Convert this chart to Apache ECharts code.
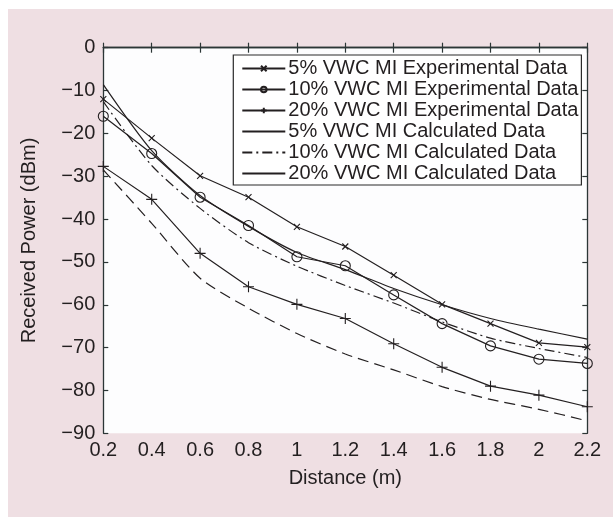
<!DOCTYPE html>
<html>
<head>
<meta charset="utf-8">
<script src="https://cdn.jsdelivr.net/npm/echarts@6/dist/echarts.min.js"></script>
<style>
  html, body { margin: 0; padding: 0; background: #ffffff; }
  #chart { position: absolute; left: 8px; top: 9px; width: 605px; height: 508px; }
</style>
</head>
<body>
<div id="chart"></div>
<script>
// Distance from the transmitter (m)
const distances = [0.2, 0.4, 0.6, 0.8, 1.0, 1.2, 1.4, 1.6, 1.8, 2.0, 2.2];

// Measured received power (dBm)
const exp5  = [-12.0, -21.1, -29.9, -34.9, -41.8, -46.4, -53.1, -59.9, -64.4, -68.9, -69.9];
const exp10 = [-16.0, -24.7, -34.9, -41.5, -48.8, -50.9, -57.7, -64.4, -69.6, -72.7, -73.7];
const exp20 = [-27.7, -35.4, -48.0, -55.8, -59.9, -63.2, -69.1, -74.6, -79.0, -81.1, -83.8];

// Model received power (dBm)
const calc5  = [-8.6, -24.0, -34.5, -41.7, -47.8, -51.8, -56.2, -60.0, -63.2, -65.7, -68.0];
const calc10 = [-12.6, -27.5, -37.5, -45.5, -51.0, -55.5, -59.6, -64.0, -67.8, -70.2, -72.3];
const calc20 = [-28.5, -41.0, -53.8, -60.8, -66.7, -71.5, -75.2, -79.1, -82.1, -84.4, -87.1];

const seriesNames = [
  '5% VWC MI Experimental Data',
  '10% VWC MI Experimental Data',
  '20% VWC MI Experimental Data',
  '5% VWC MI Calculated Data',
  '10% VWC MI Calculated Data',
  '20% VWC MI Calculated Data'
];

const ink = '#231f20';
const axisInk = '#2c3636';
const FONT = 'Liberation Sans, Arial, sans-serif';

const pairs = arr => distances.map((d, i) => [d, arr[i]]);

const crossPath = 'path://M0,0L10,10M10,0L0,10';
const plusPath = 'path://M5,0L5,10M0,5L10,5';

function lineSeries(name, data, opts) {
  return Object.assign({
    name: name,
    type: 'line',
    data: pairs(data),
    showSymbol: true,
    symbol: 'none',
    lineStyle: { color: ink, width: 1.2, type: 'solid' },
    itemStyle: { color: ink, borderColor: ink, borderWidth: 1.1 },
    emphasis: { disabled: true },
    animation: false,
    z: 3
  }, opts);
}

const minusFmt = v => (v < 0 ? '\u2212' + Math.abs(v) : String(v));
const distFmt = v => String(parseFloat(v.toFixed(1)));

// legend entries of the model curves show only a plain line
const lineOnly = { opacity: 0, color: 'rgba(0,0,0,0)', borderWidth: 0 };

const option = {
  backgroundColor: '#efdfe3',
  animation: false,
  textStyle: { fontFamily: FONT, color: ink },
  grid: {
    left: 95.3, top: 38.7, right: 25.7, bottom: 83.7,
    show: true, backgroundColor: '#fdfdfe', borderWidth: 0
  },
  xAxis: [
    {
      type: 'value', min: 0.2, max: 2.2, interval: 0.2,
      name: 'Distance (m)', nameLocation: 'middle', nameGap: 35,
      nameTextStyle: { fontSize: 20, color: ink, fontFamily: FONT },
      axisLine: { show: true, lineStyle: { color: axisInk, width: 1.3 } },
      axisTick: { show: true, inside: true, length: 5, lineStyle: { color: axisInk, width: 1.2 } },
      axisLabel: { fontSize: 20, color: ink, margin: 7, formatter: distFmt, fontFamily: FONT },
      splitLine: { show: false }
    },
    {
      type: 'value', min: 0.2, max: 2.2, interval: 0.2, position: 'top',
      axisLine: { show: true, lineStyle: { color: axisInk, width: 1.3 } },
      axisTick: { show: true, inside: true, length: 5, lineStyle: { color: axisInk, width: 1.2 } },
      axisLabel: { show: false },
      splitLine: { show: false }
    }
  ],
  yAxis: [
    {
      type: 'value', min: -90, max: 0, interval: 10,
      name: 'Received Power (dBm)', nameLocation: 'middle', nameGap: 64,
      nameTextStyle: { fontSize: 20, color: ink, fontFamily: FONT },
      axisLine: { show: true, lineStyle: { color: axisInk, width: 1.3 } },
      axisTick: { show: true, inside: true, length: 5, lineStyle: { color: axisInk, width: 1.2 } },
      axisLabel: { fontSize: 20, color: ink, margin: 8, formatter: minusFmt, fontFamily: FONT },
      splitLine: { show: false }
    },
    {
      type: 'value', min: -90, max: 0, interval: 10, position: 'right',
      axisLine: { show: true, lineStyle: { color: axisInk, width: 1.3 } },
      axisTick: { show: true, inside: true, length: 5, lineStyle: { color: axisInk, width: 1.2 } },
      axisLabel: { show: false },
      splitLine: { show: false }
    }
  ],
  legend: {
    orient: 'vertical',
    left: 225.3, top: 46,
    padding: [3, 3, 1, 8],
    itemGap: 0,
    itemWidth: 43,
    itemHeight: 7,
    backgroundColor: '#ffffff',
    borderColor: '#2a2a2a',
    borderWidth: 1.2,
    borderRadius: 0,
    selectedMode: false,
    textStyle: { fontSize: 20, lineHeight: 21, color: ink, fontFamily: FONT, padding: [0, 0, 0, -2] },
    data: [
      { name: seriesNames[0] },
      { name: seriesNames[1] },
      { name: seriesNames[2] },
      { name: seriesNames[3], itemStyle: lineOnly },
      { name: seriesNames[4], itemStyle: lineOnly },
      { name: seriesNames[5], itemStyle: lineOnly, lineStyle: { type: 'solid' } }
    ]
  },
  series: [
    lineSeries(seriesNames[0], exp5, { symbol: crossPath, symbolSize: 6 }),
    lineSeries(seriesNames[1], exp10, {
      symbol: 'circle', symbolSize: 10,
      itemStyle: { color: 'rgba(255,255,255,0)', borderColor: ink, borderWidth: 1.1 }
    }),
    lineSeries(seriesNames[2], exp20, { symbol: plusPath, symbolSize: 11 }),
    lineSeries(seriesNames[3], calc5, { smooth: 0.25 }),
    lineSeries(seriesNames[4], calc10, { smooth: 0.25, lineStyle: { color: ink, width: 1.2, type: [10, 4, 2, 4] } }),
    lineSeries(seriesNames[5], calc20, { smooth: 0.25, lineStyle: { color: ink, width: 1.2, type: [11, 6] } })
  ]
};

const chart = echarts.init(document.getElementById('chart'), null, { renderer: 'canvas' });
chart.setOption(option);
</script>
</body>
</html>
